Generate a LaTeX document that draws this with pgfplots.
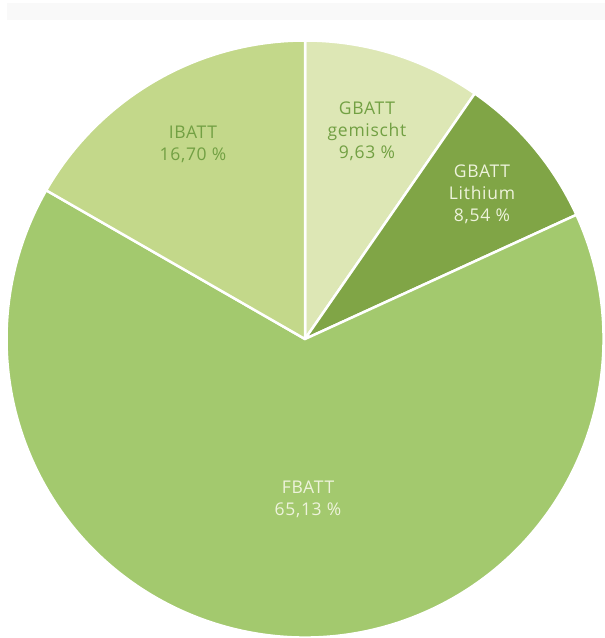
\documentclass[border=0pt]{standalone}
\usepackage{pgfplots}
\pgfplotsset{compat=1.18}
\usepackage{pgfplotstable}
\usepackage{fontspec}
\setmainfont[LetterSpace=4]{Open Sans}
\definecolor{cIB}{HTML}{C3D88A}
\definecolor{cGG}{HTML}{DDE7B5}
\definecolor{cGL}{HTML}{80A546}
\definecolor{cFB}{HTML}{A3C96E}
\definecolor{tDark}{HTML}{72A043}
\definecolor{tLight}{HTML}{EEF3DC}
\pgfplotstableread{
label value
gemischt 9.63
Lithium 8.54
FBATT 65.13
IBATT 16.70
}\piedata
\pgfmathsetmacro\aA{90}
\pgfplotstablegetelem{0}{value}\of\piedata
\pgfmathsetmacro\aB{\aA-3.6*\pgfplotsretval}
\pgfplotstablegetelem{1}{value}\of\piedata
\pgfmathsetmacro\aC{\aB-3.6*\pgfplotsretval}
\pgfplotstablegetelem{2}{value}\of\piedata
\pgfmathsetmacro\aD{\aC-3.6*\pgfplotsretval}
\pgfplotstablegetelem{3}{value}\of\piedata
\pgfmathsetmacro\aE{\aD-3.6*\pgfplotsretval}
\def\R{298.5pt}
\begin{document}
\begin{tikzpicture}
\begin{axis}[scale only axis, width=605pt, height=638pt,
  xmin=0, xmax=605, ymin=0, ymax=638, hide axis, clip=false]
\fill[black!2.5] (axis cs:7,635) rectangle (axis cs:605,618);
\coordinate (O) at (axis cs:305,299);
\filldraw[fill=cGG, draw=white, line width=2.5pt, line join=round] (O) -- ++(\aA:\R) arc[start angle=\aA, end angle=\aB, radius=\R] -- cycle;
\filldraw[fill=cGL, draw=white, line width=2.5pt, line join=round] (O) -- ++(\aB:\R) arc[start angle=\aB, end angle=\aC, radius=\R] -- cycle;
\filldraw[fill=cFB, draw=white, line width=2.5pt, line join=round] (O) -- ++(\aC:\R) arc[start angle=\aC, end angle=\aD, radius=\R] -- cycle;
\filldraw[fill=cIB, draw=white, line width=2.5pt, line join=round] (O) -- ++(\aD:\R) arc[start angle=\aD, end angle=\aE, radius=\R] -- cycle;
\node[align=center, text=tDark, font=\fontsize{17.5}{22}\selectfont] at (axis cs:193,494) {IBATT\\16,70 \%};
\node[align=center, text=tDark, font=\fontsize{17.5}{22}\selectfont] at (axis cs:367,507) {GBATT\\gemischt\\9,63 \%};
\node[align=center, text=tLight, font=\fontsize{17.5}{22}\selectfont] at (axis cs:482,444) {GBATT\\Lithium\\8,54 \%};
\node[align=center, text=tLight, font=\fontsize{17.5}{22}\selectfont] at (axis cs:308,139) {FBATT\\65,13 \%};
\end{axis}
\pgfresetboundingbox
\path[use as bounding box] (current axis.south west) rectangle (current axis.north east);
\end{tikzpicture}
\end{document}
